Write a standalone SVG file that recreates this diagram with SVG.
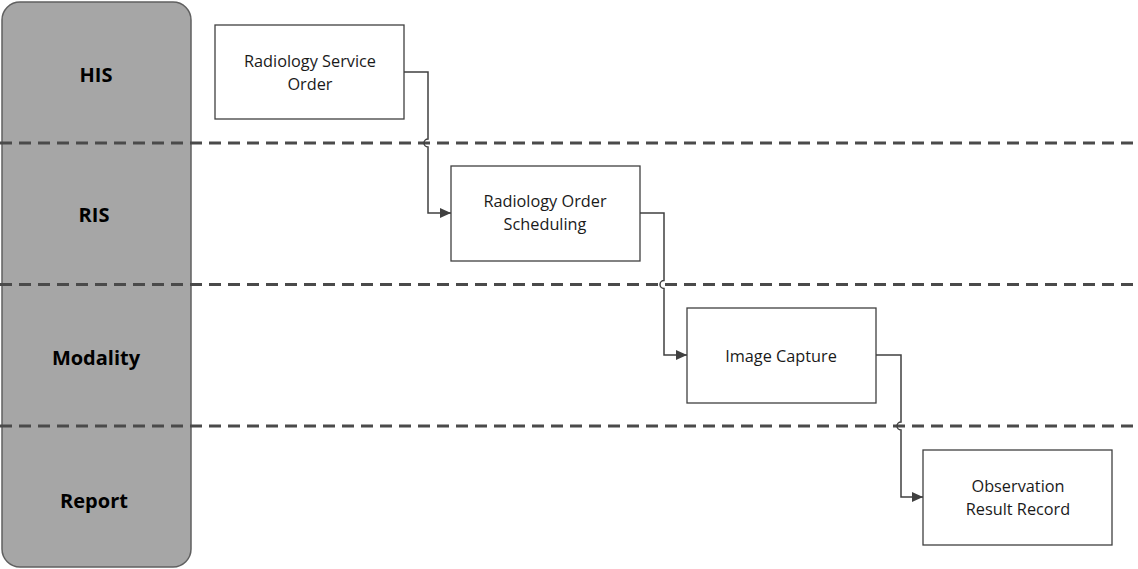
<svg xmlns="http://www.w3.org/2000/svg" width="1138" height="569" viewBox="0 0 1138 569">
<style>
.lane{fill:#a6a6a6;stroke:#606060;stroke-width:1.5}
.lbl{font-family:"Open Sans","Liberation Sans",sans-serif;font-weight:bold;font-size:20px;fill:#000;text-anchor:middle}
.sep{stroke:#4a4a4a;stroke-width:3;stroke-dasharray:12 7;fill:none}
.box{fill:#fff;stroke:#404040;stroke-width:1.3}
.txt{font-family:"Open Sans","Liberation Sans",sans-serif;font-size:16.3px;fill:#1a1a1a;text-anchor:middle}
.con{fill:none;stroke:#404040;stroke-width:1.5}
</style>
<defs>
<marker id="arr" markerWidth="12" markerHeight="12" refX="11" refY="6" orient="auto" markerUnits="userSpaceOnUse">
<path d="M0,1 L11,6 L0,11 Z" fill="#404040"/>
</marker>
</defs>
<g id="lanes">
<rect class="lane" x="2" y="2" width="189" height="565" rx="18"/>
<text class="lbl" x="96" y="82">HIS</text>
<text class="lbl" x="94" y="222">RIS</text>
<text class="lbl" x="96" y="365">Modality</text>
<text class="lbl" x="94" y="508">Report</text>
</g>
<g id="separators">
<line class="sep" x1="0" y1="143" x2="1138" y2="143"/>
<line class="sep" x1="0" y1="284.5" x2="1138" y2="284.5"/>
<line class="sep" x1="0" y1="426" x2="1138" y2="426"/>
</g>
<g id="connectors">
<path class="con" d="M404,72 H428 V139 A4,4 0 0 0 428,147 V213 H451" marker-end="url(#arr)"/>
<path class="con" d="M640,213 H664 V280.5 A4,4 0 0 0 664,288.5 V355 H687" marker-end="url(#arr)"/>
<path class="con" d="M876,355 H901 V422 A4,4 0 0 0 901,430 V497 H923" marker-end="url(#arr)"/>
</g>
<g id="n1">
<rect class="box" x="215" y="25" width="189" height="94"/>
<text class="txt" x="310" y="67">Radiology Service</text>
<text class="txt" x="310" y="90">Order</text>
</g>
<g id="n2">
<rect class="box" x="451" y="166" width="189" height="95"/>
<text class="txt" x="545" y="207">Radiology Order</text>
<text class="txt" x="545" y="230">Scheduling</text>
</g>
<g id="n3">
<rect class="box" x="687" y="308" width="189" height="95"/>
<text class="txt" x="781" y="362">Image Capture</text>
</g>
<g id="n4">
<rect class="box" x="923" y="450" width="189" height="95"/>
<text class="txt" x="1018" y="492">Observation</text>
<text class="txt" x="1018" y="515">Result Record</text>
</g>
</svg>
